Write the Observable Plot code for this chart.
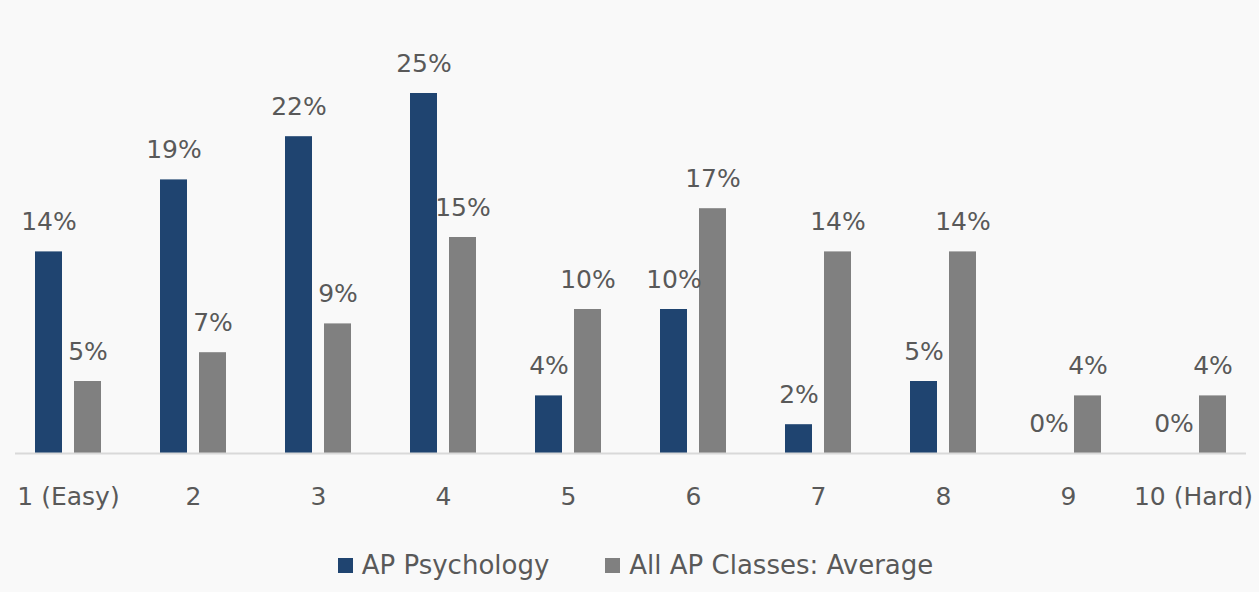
<!DOCTYPE html>
<html>
<head>
<meta charset="utf-8">
<script src="https://cdn.jsdelivr.net/npm/d3@7"></script>
<script src="https://cdn.jsdelivr.net/npm/@observablehq/plot@0.6"></script>
<style>
  html, body { margin: 0; padding: 0; background: #f9f9f9; }
  body { width: 1259px; height: 592px; overflow: hidden; font-family: "DejaVu Sans", "Open Sans", sans-serif; }
  #legend { display: flex; justify-content: center; gap: 56px; margin-top: 30px; font-size: 26px; color: #595959; margin-left: 12px; }
  #legend span.item { display: flex; align-items: center; gap: 9px; }
  #legend span.sw { width: 15px; height: 15px; display: inline-block; }
</style>
</head>
<body>
<div id="chart"></div>
<div id="legend"></div>
<script>
const categories = ["1 (Easy)", "2", "3", "4", "5", "6", "7", "8", "9", "10 (Hard)"];
const seriesNames = ["AP Psychology", "All AP Classes: Average"];
const apPsychology = [14, 19, 22, 25, 4, 10, 2, 5, 0, 0];
const allAPAverage = [5, 7, 9, 15, 10, 17, 14, 14, 4, 4];
const colors = ["#1f4470", "#808080"];

const psych = categories.map((c, i) => ({cat: c, value: apPsychology[i], series: seriesNames[0]}));
const avg = categories.map((c, i) => ({cat: c, value: allAPAverage[i], series: seriesNames[1]}));

const chart = Plot.plot({
  width: 1259,
  height: 520,
  marginTop: 93,
  marginBottom: 67,
  marginLeft: 3,
  marginRight: 1,
  style: {background: "#f9f9f9", fontSize: "25px", fontFamily: "'DejaVu Sans', 'Open Sans', sans-serif", color: "#595959"},
  x: {domain: categories, paddingInner: 0.47, paddingOuter: 0.235, tickSize: 0, tickPadding: 34, label: null},
  y: {domain: [0, 25], axis: null},
  color: {domain: seriesNames, range: colors},
  marks: [
    Plot.barY(psych, {x: "cat", y: "value", fill: "series", insetRight: 39}),
    Plot.barY(avg, {x: "cat", y: "value", fill: "series", insetLeft: 39}),
    Plot.ruleY([0], {stroke: "#d9d9d9", strokeWidth: 2, insetLeft: 12, insetRight: 12}),
    Plot.text(psych, {x: "cat", y: "value", text: d => d.value + "%", dx: -19.5, dy: -30, fill: "#595959"}),
    Plot.text(avg, {x: "cat", y: "value", text: d => d.value + "%", dx: 19.5, dy: -30, fill: "#595959"})
  ]
});
document.getElementById("chart").appendChild(chart);

const legend = document.getElementById("legend");
seriesNames.forEach((s, i) => {
  const item = document.createElement("span");
  item.className = "item";
  const sw = document.createElement("span");
  sw.className = "sw";
  sw.style.background = colors[i];
  item.appendChild(sw);
  item.appendChild(document.createTextNode(s));
  legend.appendChild(item);
});
</script>
</body>
</html>
